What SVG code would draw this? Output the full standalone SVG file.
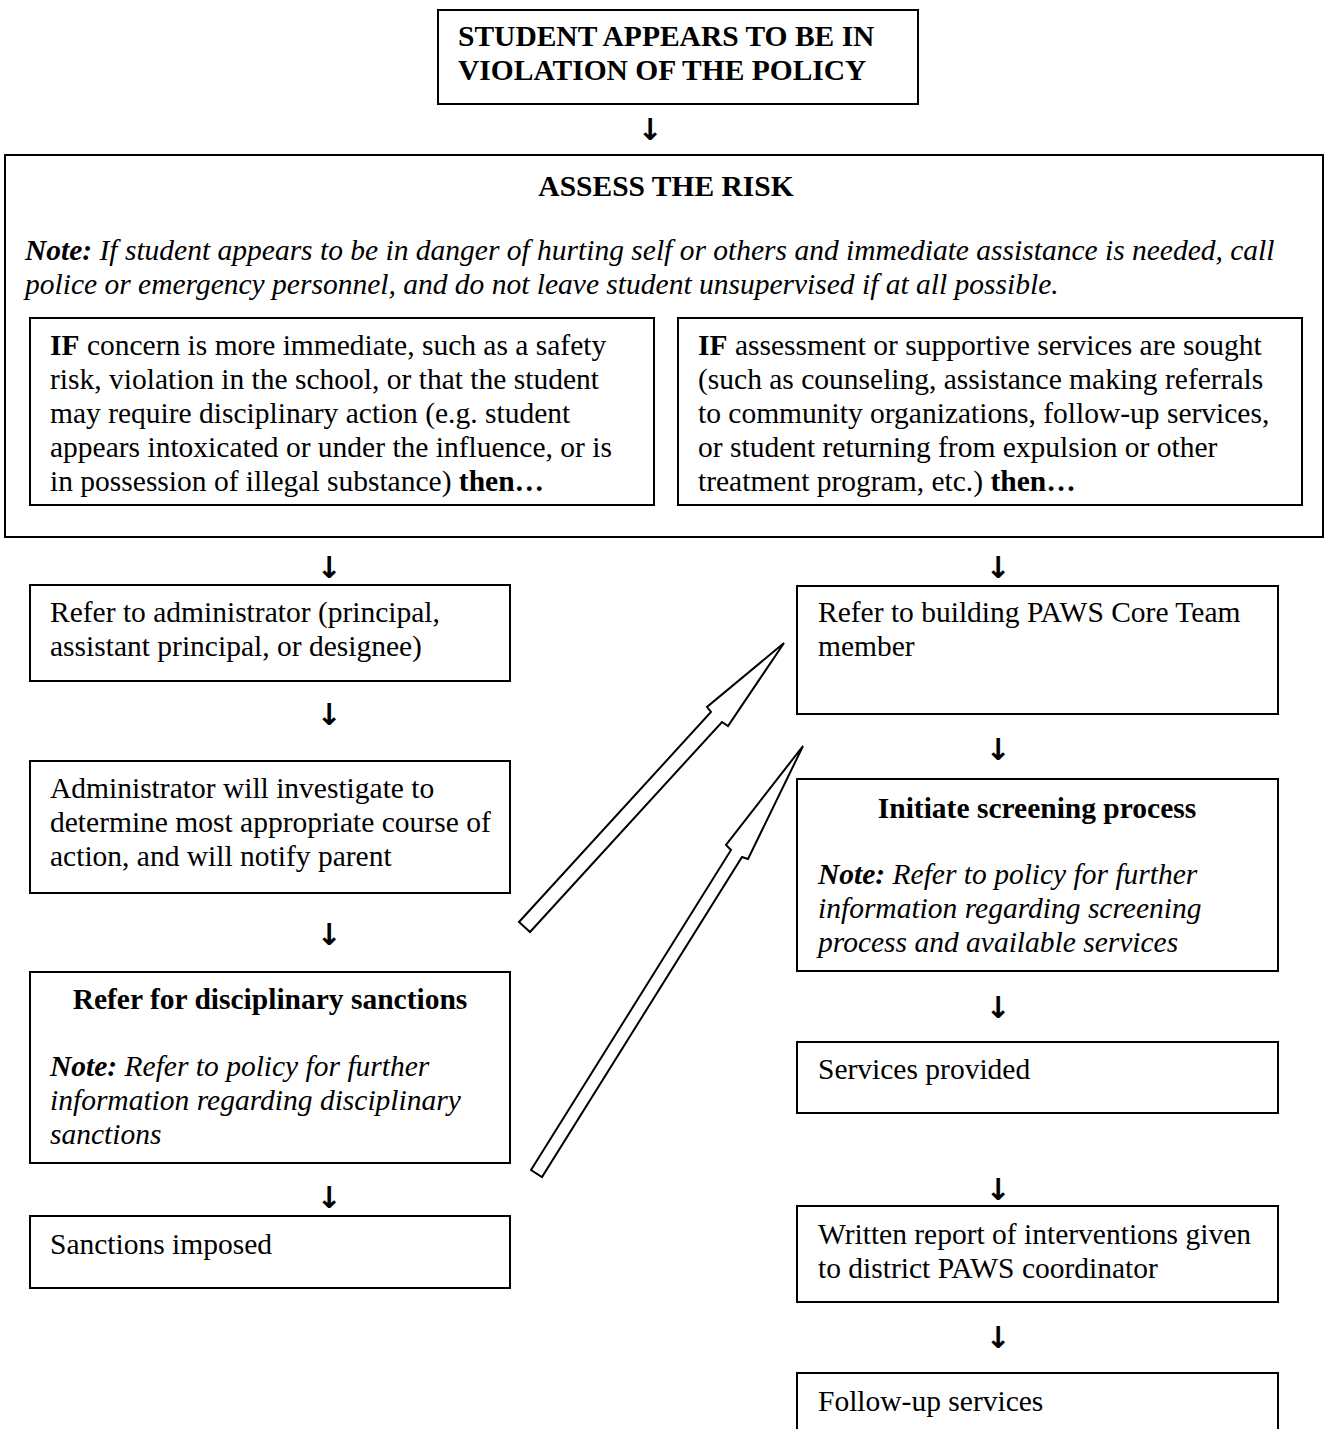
<svg xmlns="http://www.w3.org/2000/svg" width="1327" height="1429" viewBox="0 0 1327 1429">
<style>
text{font-family:"Liberation Serif","Times New Roman",serif;font-size:29.5px;fill:#000}
.b{font-weight:bold}
.i{font-style:italic}
.c{text-anchor:middle}
.box{fill:#fff;stroke:#000;stroke-width:2}
.arr{text-anchor:middle;font-family:"DejaVu Sans",sans-serif;font-size:30px;font-weight:bold}
.hollow{fill:#fff;stroke:#000;stroke-width:2;stroke-linejoin:miter}
</style>
<rect width="1327" height="1429" fill="#fff"/>

<g id="n-start">
<rect class="box" x="438" y="10" width="480" height="94"/>
<text class="b" x="458" y="46">STUDENT APPEARS TO BE IN</text>
<text class="b" x="458" y="80">VIOLATION OF THE POLICY</text>
</g>

<g id="n-assess">
<rect class="box" x="5" y="155" width="1318" height="382"/>
<text class="b c" x="666" y="196">ASSESS THE RISK</text>
<text class="i" x="25" y="260"><tspan class="b">Note:</tspan>  If student appears to be in danger of hurting self or others and immediate assistance is needed, call</text>
<text class="i" x="25" y="294">police or emergency personnel, and do not leave student unsupervised if at all possible.</text>
</g>

<g id="n-if-left">
<rect class="box" x="30" y="318" width="624" height="187"/>
<text x="50" y="355"><tspan class="b">IF</tspan> concern is more immediate, such as a safety</text>
<text x="50" y="389">risk, violation in the school, or that the student</text>
<text x="50" y="423">may require disciplinary action (e.g. student</text>
<text x="50" y="457">appears intoxicated or under the influence, or is</text>
<text x="50" y="491">in possession of illegal substance) <tspan class="b">then…</tspan></text>
</g>

<g id="n-if-right">
<rect class="box" x="678" y="318" width="624" height="187"/>
<text x="698" y="355"><tspan class="b">IF</tspan> assessment or supportive services are sought</text>
<text x="698" y="389">(such as counseling, assistance making referrals</text>
<text x="698" y="423">to community organizations, follow-up services,</text>
<text x="698" y="457">or student returning from expulsion or other</text>
<text x="698" y="491">treatment program, etc.) <tspan class="b">then…</tspan></text>
</g>

<g id="n-refer-admin">
<rect class="box" x="30" y="585" width="480" height="96"/>
<text x="50" y="622">Refer to administrator (principal,</text>
<text x="50" y="656">assistant principal, or designee)</text>
</g>

<g id="n-investigate">
<rect class="box" x="30" y="761" width="480" height="132"/>
<text x="50" y="798">Administrator will investigate to</text>
<text x="50" y="832">determine most appropriate course of</text>
<text x="50" y="866">action, and will notify parent</text>
</g>

<g id="n-discipline">
<rect class="box" x="30" y="972" width="480" height="191"/>
<text class="b c" x="270" y="1009">Refer for disciplinary sanctions</text>
<text class="i" x="50" y="1076"><tspan class="b">Note:</tspan> Refer to policy for further</text>
<text class="i" x="50" y="1110">information regarding disciplinary</text>
<text class="i" x="50" y="1144">sanctions</text>
</g>

<g id="n-sanctions">
<rect class="box" x="30" y="1216" width="480" height="72"/>
<text x="50" y="1254">Sanctions imposed</text>
</g>

<g id="n-paws">
<rect class="box" x="797" y="586" width="481" height="128"/>
<text x="818" y="622">Refer to building PAWS Core Team</text>
<text x="818" y="656">member</text>
</g>

<g id="n-screening">
<rect class="box" x="797" y="779" width="481" height="192"/>
<text class="b c" x="1037" y="818">Initiate screening process</text>
<text class="i" x="818" y="884"><tspan class="b">Note:</tspan> Refer to policy for further</text>
<text class="i" x="818" y="918">information regarding screening</text>
<text class="i" x="818" y="952">process and available services</text>
</g>

<g id="n-services">
<rect class="box" x="797" y="1042" width="481" height="71"/>
<text x="818" y="1079">Services provided</text>
</g>

<g id="n-report">
<rect class="box" x="797" y="1206" width="481" height="96"/>
<text x="818" y="1244">Written report of interventions given</text>
<text x="818" y="1278">to district PAWS coordinator</text>
</g>

<g id="n-followup">
<rect class="box" x="797" y="1373" width="481" height="80"/>
<text x="818" y="1411">Follow-up services</text>
</g>

<g id="connectors">
<text class="arr" x="650" y="140">↓</text>
<text class="arr" x="329" y="578">↓</text>
<text class="arr" x="329" y="725">↓</text>
<text class="arr" x="329" y="945">↓</text>
<text class="arr" x="329" y="1208">↓</text>
<text class="arr" x="998" y="578">↓</text>
<text class="arr" x="998" y="760">↓</text>
<text class="arr" x="998" y="1018">↓</text>
<text class="arr" x="998" y="1200">↓</text>
<text class="arr" x="998" y="1348">↓</text>
<polygon class="hollow" points="519,922 711,712 707,707 784,643 728,726 722,722 530,932"/>
<polygon class="hollow" points="531,1170 731,850 726,845 803,746 748,859 742,857 542,1177"/>
</g>
</svg>
